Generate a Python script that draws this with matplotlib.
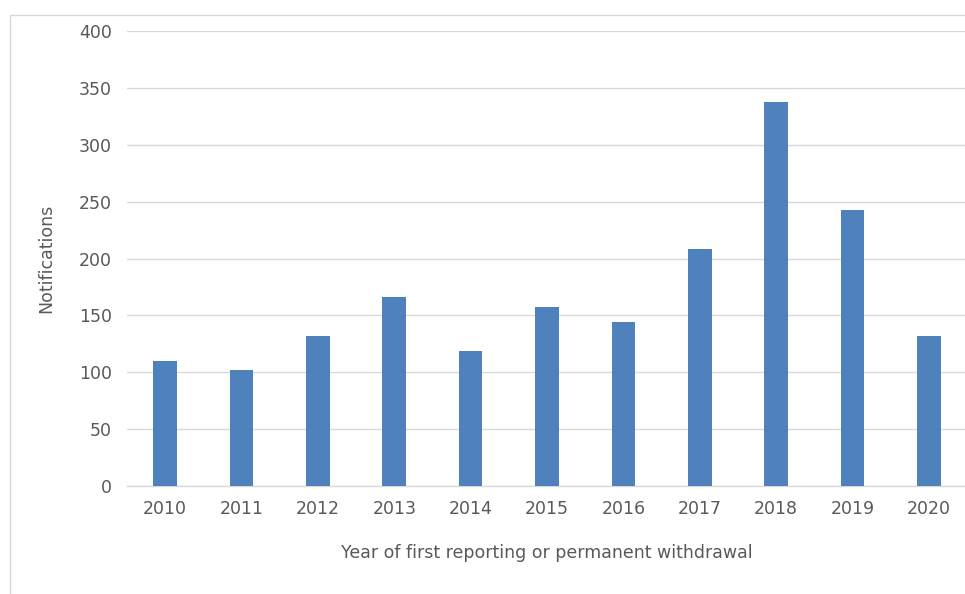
import matplotlib
matplotlib.use("Agg")
import matplotlib.pyplot as plt
from matplotlib.patches import Rectangle

years = ["2010", "2011", "2012", "2013", "2014", "2015", "2016", "2017", "2018", "2019", "2020"]
notifications = [110, 102, 132, 166, 119, 157, 144, 208, 338, 243, 132]
y_ticks = [0, 50, 100, 150, 200, 250, 300, 350, 400]

text_color = "#595959"
grid_color = "#d9d9d9"
bar_color = "#4f81bd"

plt.rcParams["font.family"] = ["DejaVu Sans"]

fig = plt.figure(figsize=(9.65, 5.94), dpi=100)
ax = fig.add_axes([127 / 965, 108 / 594, 840 / 965, 455 / 594])

# Chart-area frame
fig.patches.append(Rectangle((10 / 965, -0.1), 1.2, (594 - 15) / 594 + 0.1,
                             transform=fig.transFigure, fill=False,
                             edgecolor=grid_color, linewidth=1.0))

x = range(len(years))
ax.bar(x, notifications, width=0.31, color=bar_color, zorder=3)

ax.set_xlim(-0.5, len(years) - 0.5)
ax.set_ylim(0, 400)
ax.set_yticks(y_ticks)
ax.set_xticks(list(x))
ax.set_xticklabels(years)

ax.yaxis.grid(True, color=grid_color, linewidth=1.0, zorder=0)
ax.set_axisbelow(True)
for side in ["top", "right", "left"]:
    ax.spines[side].set_visible(False)
ax.spines["bottom"].set_color(grid_color)
ax.spines["bottom"].set_linewidth(1.0)

ax.tick_params(axis="both", length=0, labelsize=12.5, labelcolor=text_color)
ax.tick_params(axis="x", pad=10)
ax.tick_params(axis="y", pad=11)

ax.set_xlabel("Year of first reporting or permanent withdrawal",
              fontsize=12.5, color=text_color, labelpad=19)
ax.set_ylabel("Notifications", fontsize=12.5, color=text_color, labelpad=17)

fig.savefig("out.png", dpi=100)
